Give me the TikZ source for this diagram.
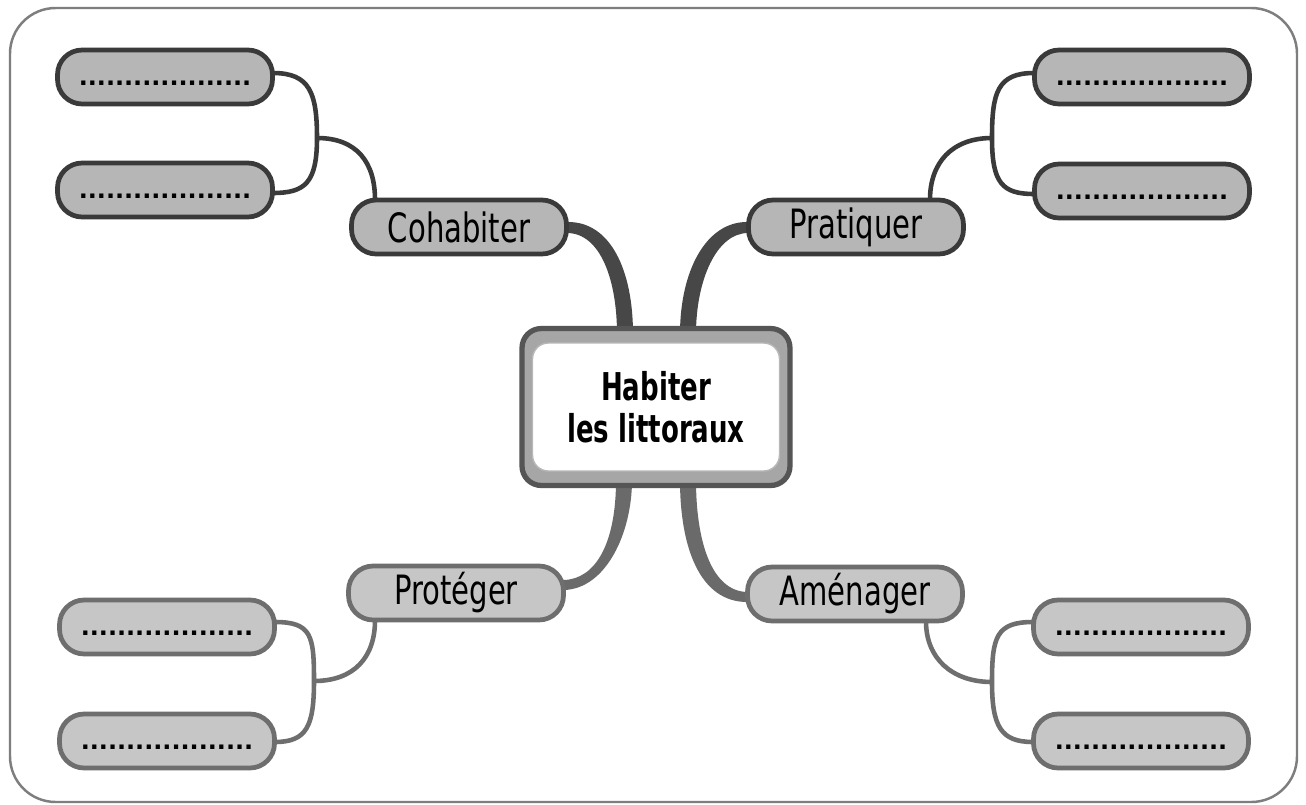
\documentclass[tikz,border=0pt]{standalone}
\usepackage{fontspec}
\setmainfont{DejaVu Sans}[FakeStretch=0.72]
\newfontfamily\habfont{DejaVu Sans}[FakeStretch=0.68]
\newfontfamily\dotfont{DejaVu Sans}
\usetikzlibrary{calc,backgrounds}
\definecolor{dk}{HTML}{3A3A3A}
\definecolor{md}{HTML}{6E6E6E}
\definecolor{fdk}{HTML}{B6B6B6}
\definecolor{fmd}{HTML}{C6C6C6}
\definecolor{framec}{HTML}{7E7E7E}
\definecolor{thickdk}{HTML}{474747}
\definecolor{thickmd}{HTML}{6A6A6A}
\definecolor{band}{HTML}{A6A6A6}
\definecolor{hborder}{HTML}{555555}
\begin{document}
\begin{tikzpicture}[x=0.02cm,y=-0.02cm,
  pill/.style={draw, rounded corners=14pt, line width=2.7pt, minimum width=4.3cm, minimum height=1.08cm, inner sep=0pt, font=\fontsize{23}{23}\selectfont},
  topbox/.style={pill, draw=dk, fill=fdk},
  botbox/.style={pill, draw=md, fill=fmd},
  leaf/.style={font=\dotfont\bfseries\fontsize{13.6}{14}\selectfont},
  thinline/.style={line width=2.6pt}
]
\useasboundingbox (0,0) rectangle (1306,805);

% central node
\node[draw=hborder, fill=band, line width=3pt, rounded corners=11pt, minimum width=5.36cm, minimum height=3.14cm] (hab) at (656,407) {};
\node[draw=band!80!white, fill=white, line width=0.8pt, rounded corners=9pt, minimum width=4.94cm, minimum height=2.56cm, align=center, font=\habfont\bfseries\fontsize{21.8}{24}\selectfont] (habt) at (656,407) {Habiter\\les littoraux};

% second level
\node[topbox] (coh) at (459,227) {Cohabiter};
\node[topbox] (pra) at (856,227) {Pratiquer};
\node[botbox] (prot) at (456,593) {Protéger};
\node[botbox] (ame) at (855,594) {Aménager};

% leaves
\node[topbox, leaf] (l1) at (165,77) {\raisebox{-2pt}{\vphantom{A}...................}};
\node[topbox, leaf] (l2) at (165,190) {\raisebox{-2pt}{\vphantom{A}...................}};
\node[botbox, leaf] (l3) at (167,627) {\raisebox{-2pt}{\vphantom{A}...................}};
\node[botbox, leaf] (l4) at (167,741) {\raisebox{-2pt}{\vphantom{A}...................}};
\node[topbox, leaf] (r1) at (1142,77) {\raisebox{-2pt}{\vphantom{A}...................}};
\node[topbox, leaf] (r2) at (1142,191) {\raisebox{-2pt}{\vphantom{A}...................}};
\node[botbox, leaf] (r3) at (1141,627) {\raisebox{-2pt}{\vphantom{A}...................}};
\node[botbox, leaf] (r4) at (1141,741) {\raisebox{-2pt}{\vphantom{A}...................}};

\coordinate (jtl) at (317,138);
\coordinate (jtr) at (992,138);
\coordinate (jbl) at (314,681);
\coordinate (jbr) at (992,682);

\begin{scope}[on background layer]
\fill[white] (0,0) rectangle (1306,805);
% outer frame
\draw[framec, line width=1.4pt, rounded corners=26pt] (10,8) rectangle (1297,802);

% thick connectors
\fill[thickdk] ($(coh.east)+(-2,-5)$) .. controls ($(coh.east)+(42,-6)$) and ($(hab.north)+(-23,-55)$) .. ($(hab.north)+(-23,8)$)
  -- ($(hab.north)+(-39,8)$) .. controls ($(hab.north)+(-39,-45)$) and ($(coh.east)+(32,6)$) .. ($(coh.east)+(-2,6)$) -- cycle;
\fill[thickdk] ($(pra.west)+(2,-5)$) .. controls ($(pra.west)+(-40,-6)$) and ($(hab.north)+(24,-55)$) .. ($(hab.north)+(24,8)$)
  -- ($(hab.north)+(40,8)$) .. controls ($(hab.north)+(40,-45)$) and ($(pra.west)+(-30,6)$) .. ($(pra.west)+(2,6)$) -- cycle;
\fill[thickmd] ($(hab.south)+(-40,-8)$) .. controls ($(hab.south)+(-40,55)$) and ($(prot.east)+(30,-14)$) .. ($(prot.east)+(-2,-13)$)
  -- ($(prot.east)+(-2,-3)$) .. controls ($(prot.east)+(40,-4)$) and ($(hab.south)+(-24,45)$) .. ($(hab.south)+(-24,-8)$) -- cycle;
\fill[thickmd] ($(hab.south)+(40,-8)$) .. controls ($(hab.south)+(40,50)$) and ($(ame.west)+(-35,-3)$) .. ($(ame.west)+(2,-2)$)
  -- ($(ame.west)+(2,8)$) .. controls ($(ame.west)+(-45,8)$) and ($(hab.south)+(24,60)$) .. ($(hab.south)+(24,-8)$) -- cycle;

% thin connectors top-left
\draw[thinline, dk] ($(l1.east)+(-2,-4)$) .. controls ($(l1.east)+(35,-4)$) and ($(jtl)+(0,-45)$) .. (jtl)
  .. controls ($(jtl)+(0,45)$) and ($(l2.east)+(30,3)$) .. ($(l2.east)+(-2,3)$);
\draw[thinline, dk] (jtl) .. controls ($(jtl)+(40,0)$) and ($(coh.north)+(-84,-35)$) .. ($(coh.north)+(-84,2)$);
% top-right
\draw[thinline, dk] ($(r1.west)+(2,-4)$) .. controls ($(r1.west)+(-35,-4)$) and ($(jtr)+(0,-45)$) .. (jtr)
  .. controls ($(jtr)+(0,45)$) and ($(r2.west)+(-30,3)$) .. ($(r2.west)+(2,3)$);
\draw[thinline, dk] (jtr) .. controls ($(jtr)+(-40,0)$) and ($(pra.north)+(74,-35)$) .. ($(pra.north)+(74,2)$);
% bottom-left
\draw[thinline, md] ($(l3.east)+(-2,-5)$) .. controls ($(l3.east)+(35,-5)$) and ($(jbl)+(0,-45)$) .. (jbl)
  .. controls ($(jbl)+(0,45)$) and ($(l4.east)+(30,1)$) .. ($(l4.east)+(-2,1)$);
\draw[thinline, md] (jbl) .. controls ($(jbl)+(40,0)$) and ($(prot.south)+(-81,35)$) .. ($(prot.south)+(-81,-2)$);
% bottom-right
\draw[thinline, md] ($(r3.west)+(2,-5)$) .. controls ($(r3.west)+(-35,-5)$) and ($(jbr)+(0,-45)$) .. (jbr)
  .. controls ($(jbr)+(0,45)$) and ($(r4.west)+(-30,1)$) .. ($(r4.west)+(2,1)$);
\draw[thinline, md] (jbr) .. controls ($(jbr)+(-40,0)$) and ($(ame.south)+(71,35)$) .. ($(ame.south)+(71,-2)$);
\end{scope}
\end{tikzpicture}
\end{document}
